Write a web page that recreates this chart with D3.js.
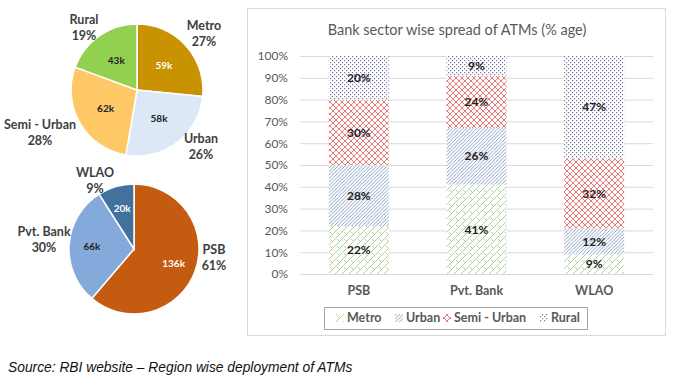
<!DOCTYPE html>
<html>
<head>
<meta charset="utf-8">
<script src="https://cdn.jsdelivr.net/npm/d3@7"></script>
<style>
  body { margin: 0; background: #fff; }
  svg { font-family: Lato, "Open Sans", sans-serif; }
</style>
</head>
<body>
<svg id="chart" width="675" height="381"></svg>
<script>
// region pie
var regionNames = ['Metro', 'Urban', 'Semi - Urban', 'Rural'];
var regionAtms = [59, 58, 62, 43];
var regionPct = ['27%', '26%', '28%', '19%'];
var regionColors = ['#C89200', '#DCE8F5', '#FFC866', '#92D050'];
var regionInnerText = ['#fff', '#222', '#222', '#222'];

// sector pie
var sectorNames = ['PSB', 'Pvt. Bank', 'WLAO'];
var sectorAtms = [136, 66, 20];
var sectorPct = ['61%', '30%', '9%'];
var sectorColors = ['#C55A11', '#84AADC', '#41719C'];
var sectorInnerText = ['#fff', '#222', '#fff'];

// stacked bars (% of each sector's ATMs)
var barCats = ['PSB', 'Pvt. Bank', 'WLAO'];
var metroPct = [22, 41, 9];
var urbanPct = [28, 26, 12];
var semiUrbanPct = [30, 24, 32];
var ruralPct = [20, 9, 47];
var yTicks = [0, 10, 20, 30, 40, 50, 60, 70, 80, 90, 100];

var svg = d3.select('#chart');
var defs = svg.append('defs');

// hatch patterns
var pMetro = defs.append('pattern').attr('id', 'pMetro')
    .attr('patternUnits', 'userSpaceOnUse').attr('width', 7).attr('height', 7);
pMetro.append('rect').attr('width', 7).attr('height', 7).attr('fill', '#fff');
pMetro.append('path').attr('d', 'M0,7 L7,0 M-1,1 L1,-1 M6,8 L8,6 M1,1 L3.5,3.5')
    .attr('stroke', '#9CC97C').attr('stroke-width', 0.8).attr('fill', 'none');

var pUrban = defs.append('pattern').attr('id', 'pUrban')
    .attr('patternUnits', 'userSpaceOnUse').attr('width', 3.5).attr('height', 3.5);
pUrban.append('rect').attr('width', 3.5).attr('height', 3.5).attr('fill', '#fff');
pUrban.append('path').attr('d', 'M0,3.5 L3.5,0 M-1,1 L1,-1 M2.5,4.5 L4.5,2.5')
    .attr('stroke', '#5B7DB0').attr('stroke-width', 0.7).attr('fill', 'none');

var pSemi = defs.append('pattern').attr('id', 'pSemi')
    .attr('patternUnits', 'userSpaceOnUse').attr('width', 6).attr('height', 6);
pSemi.append('rect').attr('width', 6).attr('height', 6).attr('fill', '#fff');
pSemi.append('path').attr('d', 'M0,6 L6,0 M0,0 L6,6')
    .attr('stroke', '#E05A5A').attr('stroke-width', 0.8).attr('fill', 'none');

var pRural = defs.append('pattern').attr('id', 'pRural')
    .attr('patternUnits', 'userSpaceOnUse').attr('width', 4).attr('height', 4);
pRural.append('rect').attr('width', 4).attr('height', 4).attr('fill', '#fff');
pRural.append('rect').attr('x', 0).attr('y', 0).attr('width', 1.2).attr('height', 1.2).attr('fill', '#7878A8');
pRural.append('rect').attr('x', 2).attr('y', 2).attr('width', 1.2).attr('height', 1.2).attr('fill', '#7878A8');

var seriesFill = ['url(#pMetro)', 'url(#pUrban)', 'url(#pSemi)', 'url(#pRural)'];

// ---- pies ----
function drawPie(cx, cy, r, values, colors, innerText, names, pcts, outerPos, labelR) {
    var g = svg.append('g').attr('transform', 'translate(' + cx + ',' + cy + ')');
    var pie = d3.pie().sort(null).value(d => d);
    var arc = d3.arc().innerRadius(0).outerRadius(r);
    var arcs = pie(values);
    g.selectAll('path').data(arcs).enter().append('path')
        .attr('d', arc)
        .attr('fill', (d, i) => colors[i])
        .attr('stroke', '#fff')
        .attr('stroke-width', 1.5);
    var inner = d3.arc().innerRadius(r * labelR).outerRadius(r * labelR);
    g.selectAll('text.in').data(arcs).enter().append('text')
        .attr('class', 'in')
        .attr('transform', d => 'translate(' + inner.centroid(d) + ')')
        .attr('text-anchor', 'middle').attr('dy', '0.35em')
        .attr('font-size', 10).attr('font-weight', 'bold')
        .attr('fill', (d, i) => innerText[i])
        .text((d, i) => values[i] + 'k');
    names.forEach((n, i) => {
        var t = svg.append('text')
            .attr('x', outerPos[i][0]).attr('y', outerPos[i][1])
            .attr('text-anchor', 'middle')
            .attr('font-size', 12.5).attr('font-weight', 'bold').attr('fill', '#404040');
        t.append('tspan').attr('x', outerPos[i][0]).attr('dy', 0).text(n);
        t.append('tspan').attr('x', outerPos[i][0]).attr('dy', 16).text(pcts[i]);
    });
}

drawPie(137, 90, 66, regionAtms, regionColors, regionInnerText, regionNames, regionPct,
    [[204, 30], [201, 143], [40, 129], [84, 24]], 0.55);
drawPie(134, 249, 65, sectorAtms, sectorColors, sectorInnerText, sectorNames, sectorPct,
    [[214, 254], [44, 236], [95, 177]], 0.65);

// ---- stacked bar chart ----
svg.append('rect')
    .attr('x', 247.5).attr('y', 8.5).attr('width', 418).attr('height', 327)
    .attr('fill', '#fff').attr('stroke', '#D9D9D9');

svg.append('text')
    .attr('x', 457).attr('y', 35)
    .attr('text-anchor', 'middle')
    .attr('font-size', 14.5).attr('fill', '#595959')
    .text('Bank sector wise spread of ATMs (% age)');

var x = d3.scaleBand().domain(barCats).range([300, 653]).paddingInner(0.49).paddingOuter(0.245);
var y = d3.scaleLinear().domain([0, 100]).range([274, 56]);

var yAxis = d3.axisLeft(y).tickValues(yTicks).tickFormat(d => d + '%').tickSize(-353).tickPadding(12);
var gy = svg.append('g').attr('transform', 'translate(300,0)').call(yAxis);
gy.select('.domain').remove();
gy.selectAll('line').attr('stroke', '#D9D9D9');
gy.selectAll('text').style('font-size', '12px').style('fill', '#595959').style('font-family', 'Lato, sans-serif');

var rows = barCats.map((c, i) => ({cat: c, Metro: metroPct[i], Urban: urbanPct[i], Semi: semiUrbanPct[i], Rural: ruralPct[i]}));
var keys = ['Metro', 'Urban', 'Semi', 'Rural'];
var stacked = d3.stack().keys(keys)(rows);

var layers = svg.selectAll('g.layer').data(stacked).enter().append('g')
    .attr('class', 'layer').attr('fill', (d, i) => seriesFill[i]);
layers.selectAll('rect').data(d => d).enter().append('rect')
    .attr('x', d => x(d.data.cat))
    .attr('y', d => y(d[1]))
    .attr('width', x.bandwidth())
    .attr('height', d => y(d[0]) - y(d[1]));
layers.selectAll('text').data(d => d).enter().append('text')
    .attr('x', d => x(d.data.cat) + x.bandwidth() / 2)
    .attr('y', d => (y(d[0]) + y(d[1])) / 2)
    .attr('dy', '0.35em').attr('text-anchor', 'middle')
    .attr('font-size', 12).attr('font-weight', 'bold').attr('fill', '#222')
    .text(d => (d[1] - d[0]) + '%');

var xAxis = d3.axisBottom(x).tickSize(0).tickPadding(12);
var gx = svg.append('g').attr('transform', 'translate(0,274)').call(xAxis);
gx.select('.domain').attr('stroke', '#D9D9D9');
gx.selectAll('text').style('font-size', '12.5px').style('font-weight', 'bold').style('fill', '#595959').style('font-family', 'Lato, sans-serif');

// legend
svg.append('rect').attr('x', 324.5).attr('y', 307.5).attr('width', 263).attr('height', 22)
    .attr('fill', '#fff').attr('stroke', '#A6A6A6');
var legendNames = ['Metro', 'Urban', 'Semi - Urban', 'Rural'];
var legendX = [336, 395, 443, 540];
legendNames.forEach((n, i) => {
    svg.append('rect').attr('x', legendX[i]).attr('y', 314).attr('width', 8).attr('height', 8)
        .attr('fill', seriesFill[i]);
    svg.append('text').attr('x', legendX[i] + 11).attr('y', 318).attr('dy', '0.35em')
        .attr('font-size', 12.5).attr('font-weight', 'bold').attr('fill', '#595959')
        .text(n);
});

// source note
svg.append('text')
    .attr('x', 8).attr('y', 372)
    .style('font-family', '"Liberation Sans", Arial, sans-serif')
    .style('font-style', 'italic').style('font-size', '13.8px').attr('fill', '#111')
    .text('Source: RBI website \u2013 Region wise deployment of ATMs');
</script>
</body>
</html>
